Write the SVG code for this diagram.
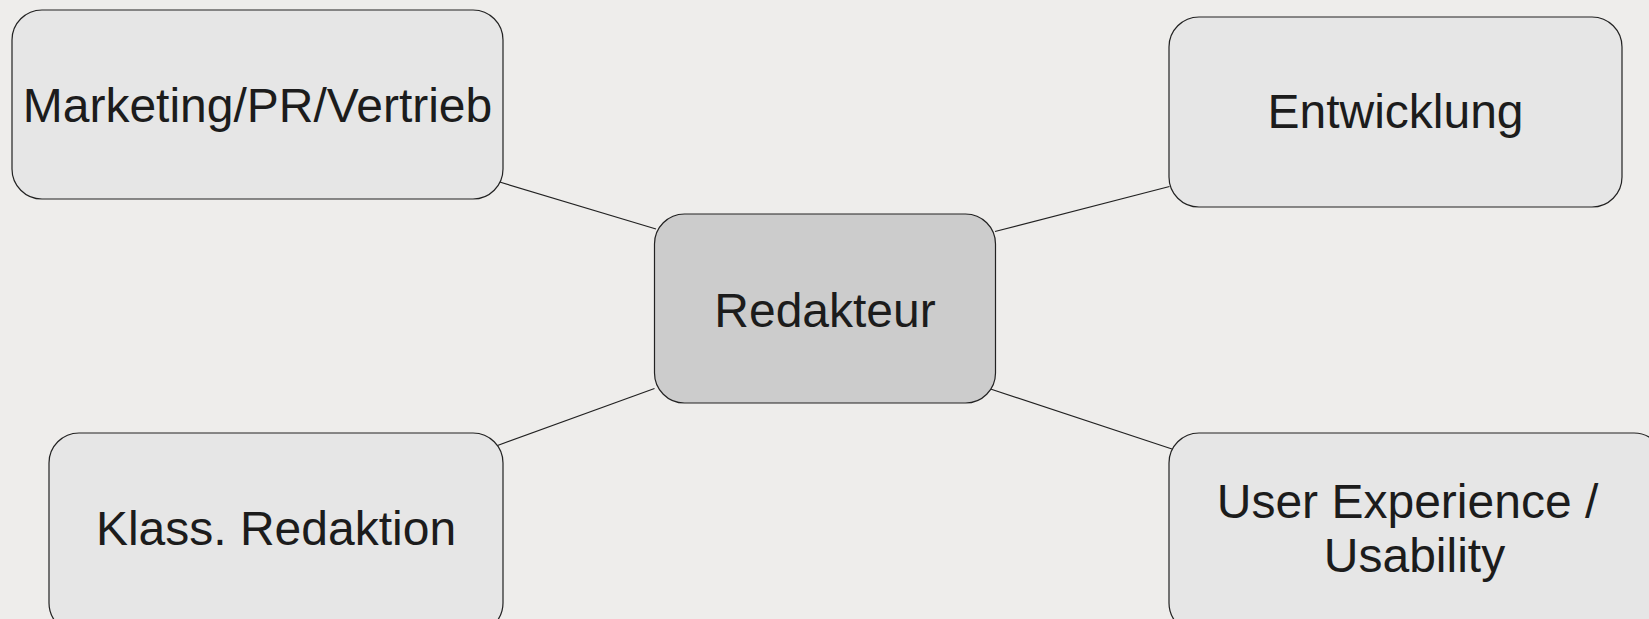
<svg xmlns="http://www.w3.org/2000/svg" width="1649" height="619" viewBox="0 0 1649 619">
<style>
.box{fill:#e6e6e6;stroke:#222;stroke-width:1.2}
.center{fill:#cccccc;stroke:#222;stroke-width:1.2}
.lbl{font-family:"Liberation Sans",Arial,sans-serif;font-size:48px;fill:#1c1c1c;text-anchor:middle}
.conn{stroke:#222;stroke-width:1.2;fill:none}
</style>
<rect x="0" y="0" width="1649" height="619" fill="#eeedeb"/>
<g id="connectors">
<line class="conn" x1="498" y1="181.5" x2="656" y2="229"/>
<line class="conn" x1="1169.5" y1="186.5" x2="995" y2="231.5"/>
<line class="conn" x1="654.5" y1="388.5" x2="497.5" y2="445.5"/>
<line class="conn" x1="990.5" y1="389" x2="1172" y2="449"/>
</g>
<g id="marketing">
<rect class="box" x="12" y="10" width="491" height="189" rx="30" ry="30"/>
<text class="lbl" x="257.5" y="122">Marketing/PR/Vertrieb</text>
</g>
<g id="entwicklung">
<rect class="box" x="1169" y="17" width="453" height="190" rx="30" ry="30"/>
<text class="lbl" x="1395.5" y="128">Entwicklung</text>
</g>
<g id="redakteur">
<rect class="center" x="654.5" y="214" width="341" height="189" rx="30" ry="30"/>
<text class="lbl" x="825" y="326.5">Redakteur</text>
</g>
<g id="klass">
<rect class="box" x="49" y="433" width="454" height="200" rx="30" ry="30"/>
<text class="lbl" x="276" y="545">Klass. Redaktion</text>
</g>
<g id="ux">
<rect class="box" x="1169" y="433" width="495" height="200" rx="30" ry="30"/>
<text class="lbl" x="1407.5" y="518">User Experience /</text>
<text class="lbl" x="1414.5" y="572">Usability</text>
</g>
</svg>
